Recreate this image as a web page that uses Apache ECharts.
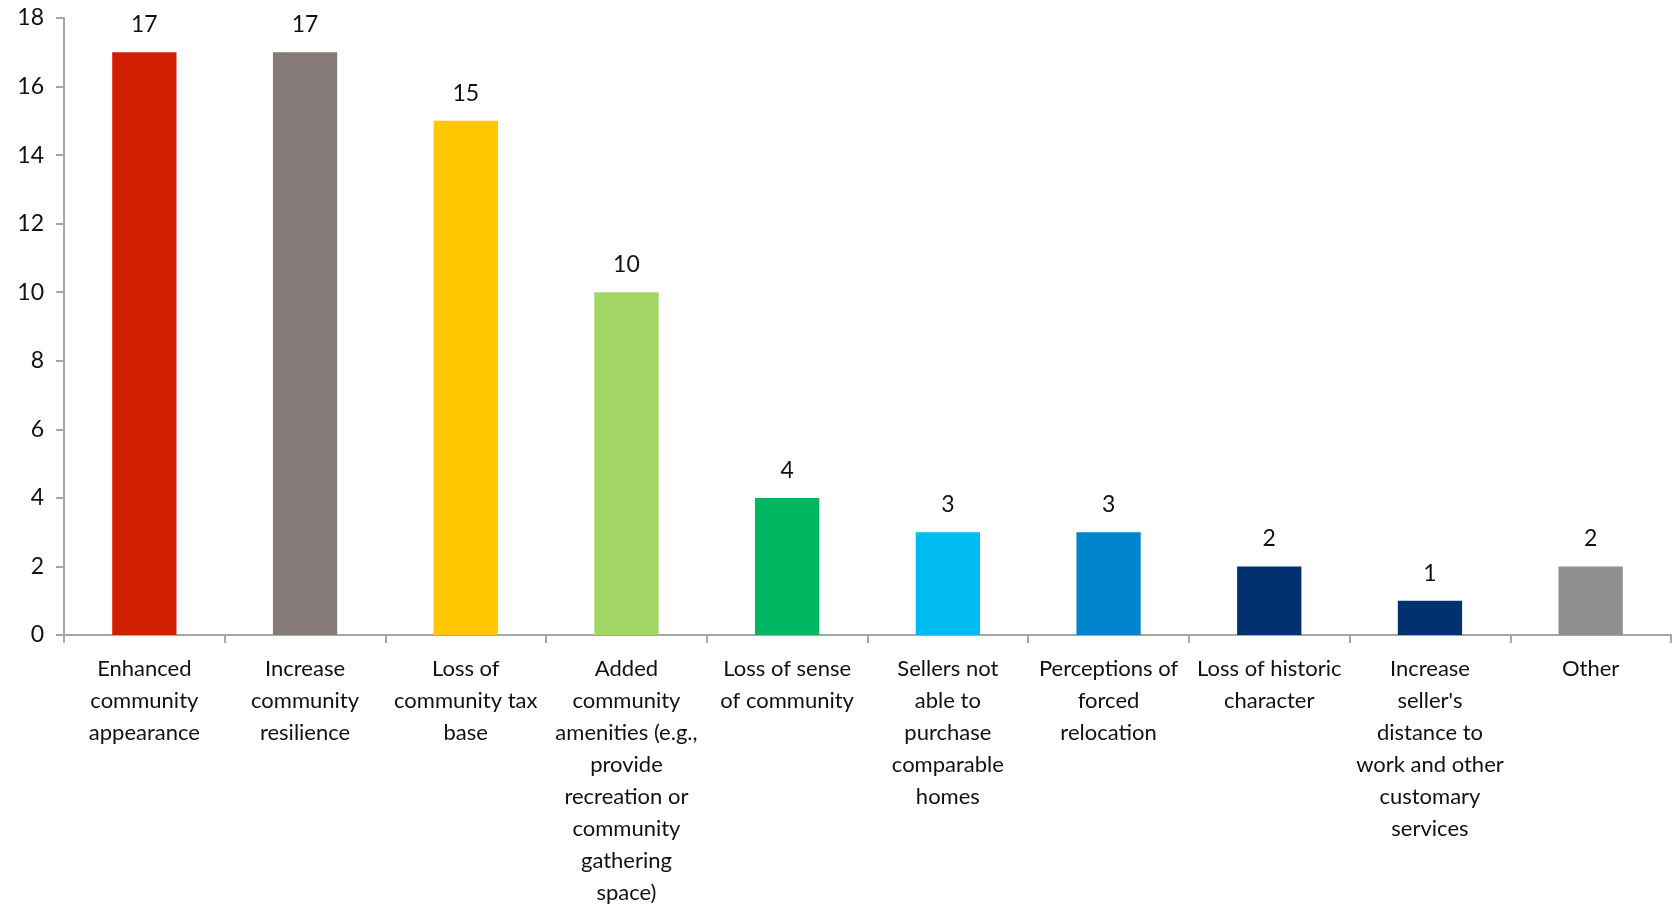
<!DOCTYPE html>
<html>
<head>
<meta charset="utf-8">
<script src="https://cdn.jsdelivr.net/npm/echarts@6/dist/echarts.min.js"></script>
<style>
  html, body { margin: 0; padding: 0; background: #fff; }
  #chart { width: 1674px; height: 906px; }
</style>
</head>
<body>
<div id="chart"></div>
<script>
// Category labels (line breaks as shown under each bar)
const categories = [
  'Enhanced\ncommunity\nappearance',
  'Increase\ncommunity\nresilience',
  'Loss of\ncommunity tax\nbase',
  'Added\ncommunity\namenities (e.g.,\nprovide\nrecreation or\ncommunity\ngathering\nspace)',
  'Loss of sense\nof community',
  'Sellers not\nable to\npurchase\ncomparable\nhomes',
  'Perceptions of\nforced\nrelocation',
  'Loss of historic\ncharacter',
  'Increase\nseller\'s\ndistance to\nwork and other\ncustomary\nservices',
  'Other'
];

// Number of responses per category
const counts = [17, 17, 15, 10, 4, 3, 3, 2, 1, 2];

// Bar fill per category
const barColors = [
  '#CF1E00', '#857A79', '#FFC700', '#A2D664', '#00B660',
  '#00BBEE', '#0085CC', '#00306F', '#00306F', '#8F8F8F'
];

const yTicks = { min: 0, max: 18, interval: 2 };

const fontFamily = 'Lato, "Noto Sans", sans-serif';
const textColor = '#111';
const axisColor = '#A6A6A6';

const chart = echarts.init(document.getElementById('chart'), null, { renderer: 'canvas' });

chart.setOption({
  animation: false,
  backgroundColor: '#ffffff',
  grid: {
    left: 64, right: 3, top: 18, bottom: 271,
    containLabel: false,
    outerBoundsMode: 'none'
  },
  xAxis: {
    type: 'category',
    data: categories,
    axisLine: { show: true, lineStyle: { color: axisColor, width: 2 } },
    axisTick: { show: true, alignWithLabel: false, length: 8, lineStyle: { color: axisColor, width: 2 } },
    axisLabel: {
      interval: 0,
      margin: 18,
      color: textColor,
      fontFamily: fontFamily,
      fontSize: 22,
      lineHeight: 32,
      align: 'center'
    }
  },
  yAxis: {
    type: 'value',
    min: yTicks.min,
    max: yTicks.max,
    interval: yTicks.interval,
    splitLine: { show: false },
    axisLine: { show: true, lineStyle: { color: axisColor, width: 2 } },
    axisTick: { show: true, length: 8, lineStyle: { color: axisColor, width: 2 } },
    axisLabel: {
      margin: 20,
      color: textColor,
      fontFamily: fontFamily,
      fontSize: 23
    }
  },
  series: [{
    type: 'bar',
    barWidth: '40%',
    data: counts.map((v, i) => ({ value: v, itemStyle: { color: barColors[i] } })),
    label: {
      show: true,
      position: 'top',
      distance: 16,
      color: textColor,
      fontFamily: fontFamily,
      fontSize: 23
    }
  }]
});
</script>
</body>
</html>
